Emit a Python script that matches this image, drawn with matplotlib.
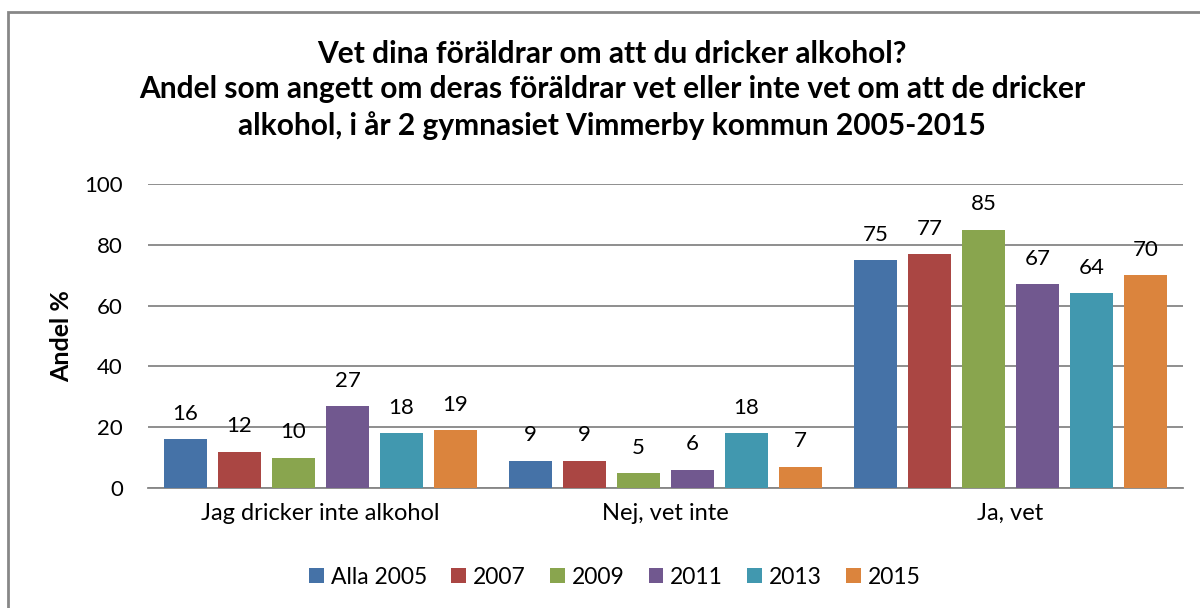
import matplotlib
matplotlib.use("Agg")
import matplotlib.pyplot as plt
import numpy as np
from matplotlib.patches import Rectangle

categories = ["Jag dricker inte alkohol", "Nej, vet inte", "Ja, vet"]
series_names = ["Alla 2005", "2007", "2009", "2011", "2013", "2015"]
values = {
    "Alla 2005": [16, 9, 75],
    "2007": [12, 9, 77],
    "2009": [10, 5, 85],
    "2011": [27, 6, 67],
    "2013": [18, 18, 64],
    "2015": [19, 7, 70],
}
colors = ["#4572A7", "#AA4643", "#89A54E", "#71588F", "#4198AF", "#DB843D"]
title = ("Vet dina föräldrar om att du dricker alkohol?\n"
         "Andel som angett om deras föräldrar vet eller inte vet om att de dricker\n"
         "alkohol, i år 2 gymnasiet Vimmerby kommun 2005-2015")
yticks = [0, 20, 40, 60, 80, 100]

plt.rcParams['font.family'] = ['Lato', 'DejaVu Sans']

fig = plt.figure(figsize=(12, 6.08), dpi=100)
ax = fig.add_axes([148/1200, 120/608, (1183-148)/1200, 304/608])

# outer frame (cropped chart border)
fig.patches.append(Rectangle((8/1200, -0.1), 1.2, (608-12)/608 + 0.1,
                             transform=fig.transFigure, fill=False,
                             edgecolor="#878787", linewidth=2))

x = np.arange(len(categories))
step = 54/345
width = 43/345
n = len(series_names)
for i, (name, c) in enumerate(zip(series_names, colors)):
    offs = (i - (n-1)/2) * step
    bars = ax.bar(x + offs, values[name], width=width, color=c, label=name, zorder=3)
    for b, v in zip(bars, values[name]):
        ax.annotate(f"{v}", (b.get_x() + b.get_width()/2, v), xytext=(0, 11),
                    textcoords="offset points", ha="center", va="bottom",
                    fontsize=16, color="black", zorder=4)

ax.set_xlim(-0.5, 2.5)
ax.set_ylim(0, 100)
ax.set_yticks(yticks)
ax.grid(axis="y", color="#868686", linewidth=1.3, zorder=0)
for s in ["top", "right", "left"]:
    ax.spines[s].set_visible(False)
ax.spines["bottom"].set_color("#868686")
ax.spines["bottom"].set_linewidth(1.3)
ax.set_xticks(x)
ax.set_xticklabels(categories, fontsize=17)
ax.tick_params(axis="y", length=0, labelsize=16, pad=18)
ax.tick_params(axis="x", length=0, pad=11)
ax.set_ylabel("Andel %", fontsize=18, fontweight="bold", labelpad=8)

fig.text(612/1200, 1 - 90/608, title, ha="center", va="center",
         fontsize=21.5, fontweight="bold", linespacing=1.32)

ax.legend(loc="center", bbox_to_anchor=(615/1200, 1 - 577/608),
          bbox_transform=fig.transFigure, ncol=6, frameon=False,
          fontsize=16.5, handlelength=0.65, handleheight=0.65,
          handletextpad=0.3, columnspacing=1.05)

fig.savefig("out.png", dpi=100)
